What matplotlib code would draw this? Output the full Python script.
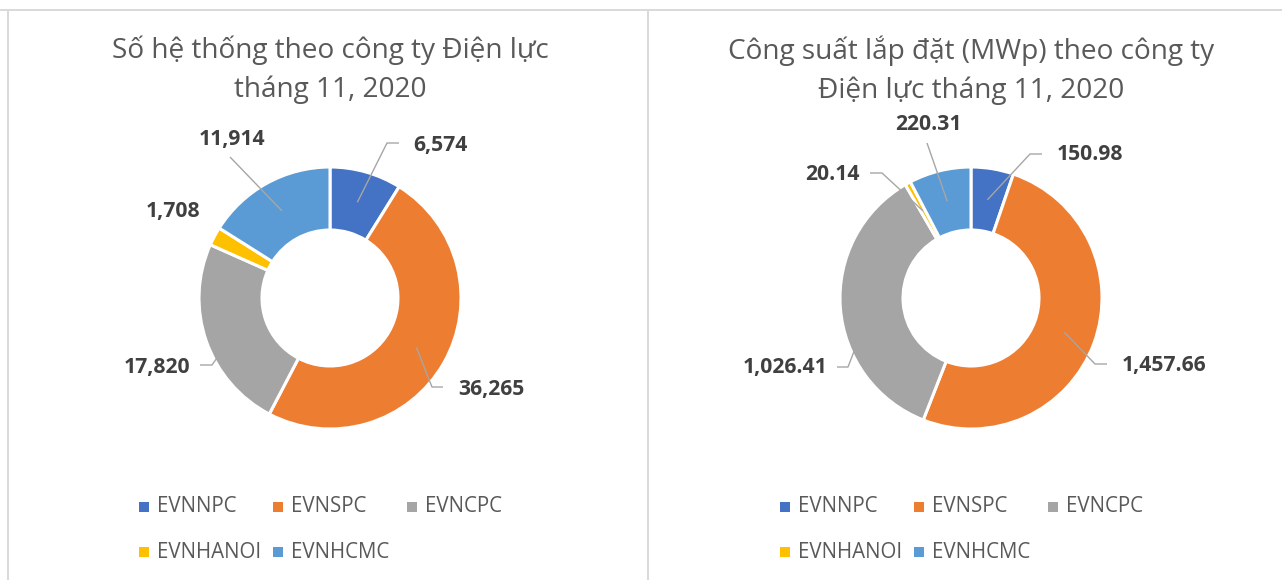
import matplotlib
matplotlib.use("Agg")
import matplotlib.pyplot as plt
from matplotlib.patches import Rectangle
import numpy as np

# ---- data ----
categories = ["EVNNPC", "EVNSPC", "EVNCPC", "EVNHANOI", "EVNHCMC"]
systems_count = [6574, 36265, 17820, 1708, 11914]
capacity_mwp = [150.98, 1457.66, 1026.41, 20.14, 220.31]
title_left = "Số hệ thống theo công ty Điện lực\ntháng 11, 2020"
title_right = "Công suất lắp đặt (MWp) theo công ty\nĐiện lực tháng 11, 2020"

colors = ["#4472C4", "#ED7D31", "#A5A5A5", "#FFC000", "#5B9BD5"]

W, H = 1282, 580
FONT = ["Open Sans", "Noto Sans", "DejaVu Sans"]
plt.rcParams["font.family"] = FONT

fig = plt.figure(figsize=(W / 100, H / 100), dpi=100)
ax = fig.add_axes([0, 0, 1, 1])
ax.set_axis_off()


def P(x, ytop):
    return x, H - ytop


R_OUT = 131
R_IN = 68

# label layout (offsets from donut center, pixels; y downward): (text x, text y, ha, leader points)
left_layout = [
    (83, -153, "left", [(57, -155), (69, -155)]),
    (128, 91, "left", [(102, 89), (113, 89)]),
    (-140, 69, "right", [(-118, 67), (-130, 67)]),
    (-130, -86, "right", None),
    (-98, -158, "center", [(-100, -141)]),
]
right_layout = [
    (86, -144, "left", [(59, -144), (71, -144)]),
    (151, 67, "left", [(124, 66), (136, 66)]),
    (-144, 69, "right", [(-123, 69), (-134, 69)]),
    (-111, -123, "right", [(-89, -125), (-101, -125)]),
    (-43, -173, "center", [(-44, -155)]),
]


def donut(cx, cy, values, fmt, layout, title, leg_x0):
    center = P(cx, cy)
    ax.pie(values, colors=colors, startangle=90, counterclock=False,
           radius=R_OUT, center=center,
           wedgeprops=dict(width=R_OUT - R_IN, edgecolor="white", linewidth=2.2))
    total = float(sum(values))
    cum = 0.0
    r_mid = (R_OUT + R_IN) / 2
    for v, lay in zip(values, layout):
        frac = (cum + v / 2) / total
        cum += v
        ang = np.deg2rad(90 - 360 * frac)
        sx = center[0] + r_mid * np.cos(ang)
        sy = center[1] + r_mid * np.sin(ang)
        tx, ty, ha, pts = lay
        if pts:
            xs = [sx] + [cx + p[0] for p in pts]
            ys = [sy] + [H - (cy + p[1]) for p in pts]
            ax.plot(xs, ys, color="#A6A6A6", lw=1.0, solid_capstyle="butt", zorder=5)
        ax.text(cx + tx, H - (cy + ty), fmt(v), ha=ha, va="center",
                fontsize=15.2, fontweight="bold", color="#404040", zorder=6)
    ax.text(cx, H - 70, title, ha="center", va="center", fontsize=20.2,
            color="#595959", linespacing=1.5)
    # legend
    for i, (c, name) in enumerate(zip(colors, categories)):
        col, row = i % 3, i // 3
        x = leg_x0 + col * 134
        y = 507 + row * 45
        ax.add_patch(Rectangle((x - 5, H - y - 5), 10, 10, color=c, lw=0))
        ax.text(x + 13, H - y, name, ha="left", va="center", fontsize=14.8,
                color="#595959")


donut(330, 298, systems_count, lambda v: f"{v:,.0f}", left_layout, title_left, 144)
donut(971, 298, capacity_mwp, lambda v: f"{v:,.2f}", right_layout, title_right, 785)

# panel borders
ax.plot([0, W], [H - 9.5, H - 9.5], color="#D9D9D9", lw=1.4)
ax.plot([8, 8], [0, H - 9.5], color="#D9D9D9", lw=1.4)
ax.plot([648, 648], [0, H - 9.5], color="#D9D9D9", lw=1.4)

ax.set_xlim(0, W)
ax.set_ylim(0, H)
ax.set_aspect("auto")
ax.set_position([0, 0, 1, 1])

fig.savefig("out.png", dpi=100, facecolor="white")
